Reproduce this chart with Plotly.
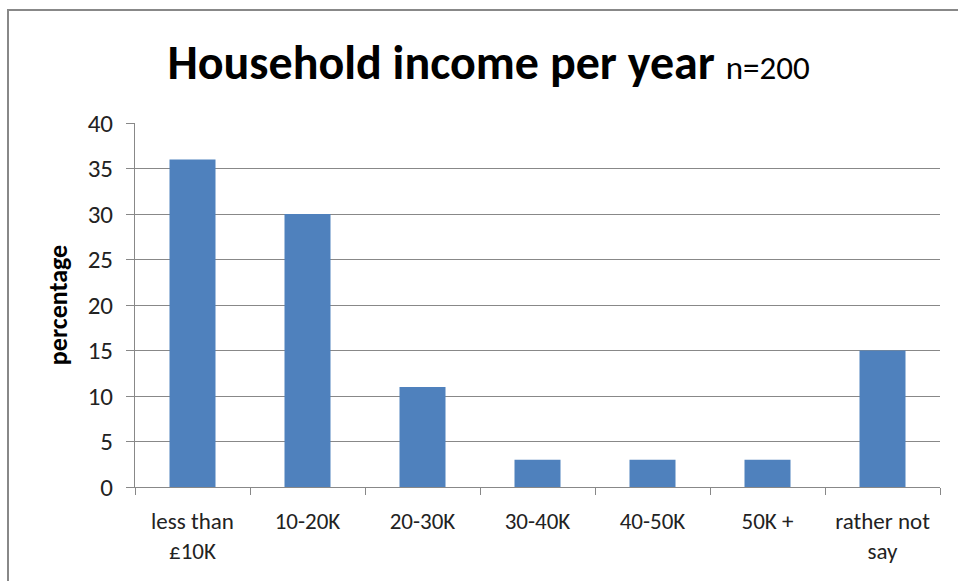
import plotly.graph_objects as go

categories = ["less than<br>£10K", "10-20K", "20-30K", "30-40K", "40-50K", "50K +", "rather not<br>say"]
values = [36, 30, 11, 3, 3, 3, 15]
y_ticks = [0, 5, 10, 15, 20, 25, 30, 35, 40]

FONT = "Carlito, Lato, sans-serif"
W, H = 958, 581
L, R, T, B = 135, 18, 123, 94
pw, ph = W - L - R, H - T - B

def px_x(p):
    return (p - L) / pw

def px_y(p):
    return (H - B - p) / ph

fig = go.Figure(go.Bar(x=categories, y=values, marker=dict(color="#4F81BD", line=dict(width=0)), width=0.4))

fig.update_layout(
    width=W, height=H,
    margin=dict(l=L, r=R, t=T, b=B, autoexpand=False),
    paper_bgcolor="white", plot_bgcolor="white",
    font=dict(family=FONT, color="#222"),
    showlegend=False,
    title=dict(
        text="<b>Household income per year</b> <span style='font-size:33px'>n=200</span>",
        font=dict(family=FONT, size=48, color="black"),
        x=0.51, xanchor="center", y=1 - 62 / H, yanchor="middle",
    ),
    xaxis=dict(
        showline=True, linecolor="#888", linewidth=1,
        ticks="outside", tickson="boundaries", ticklen=7, tickcolor="#888",
        tickfont=dict(size=23, color="#222"),
        tickangle=0, automargin=False,
        ticklabelstandoff=13,
        showgrid=False,
    ),
    yaxis=dict(
        range=[0, 40], tickvals=y_ticks,
        showline=True, linecolor="#888", linewidth=1,
        ticks="outside", ticklen=8, tickcolor="#888",
        showgrid=True, gridcolor="#888", gridwidth=1,
        tickfont=dict(size=25, color="#222"),
        ticklabelstandoff=8, automargin=False,
        title=dict(text="<b>percentage</b>", font=dict(size=26, color="black"), standoff=12),
        zeroline=False,
    ),
    shapes=[
        dict(type="rect", xref="paper", yref="paper",
             x0=px_x(8), x1=px_x(1000), y0=px_y(620), y1=px_y(10),
             line=dict(color="#888", width=2), fillcolor="rgba(0,0,0,0)", layer="below"),
    ],
)

fig.write_html("out.html")
